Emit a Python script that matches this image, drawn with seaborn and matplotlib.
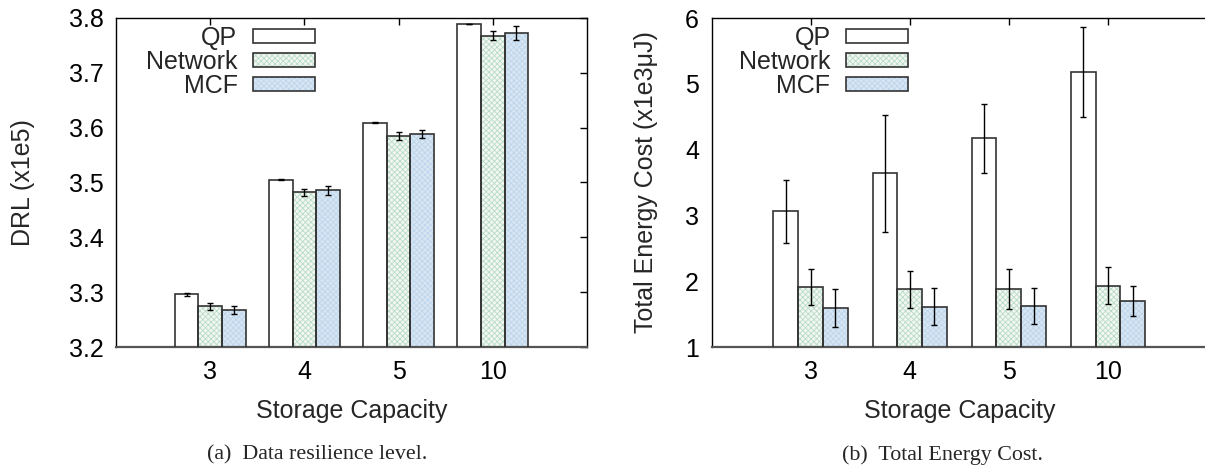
import matplotlib
matplotlib.use("Agg")
import matplotlib.pyplot as plt
from matplotlib.legend_handler import HandlerTuple
import seaborn as sns
import numpy as np
import pandas as pd

# data
capacities = ["3", "4", "5", "10"]
methods = ["QP", "Network", "MCF"]

# (a) data resilience level, x1e5
drl_qp = [3.296, 3.505, 3.609, 3.789]
drl_net = [3.274, 3.482, 3.585, 3.768]
drl_mcf = [3.267, 3.486, 3.589, 3.773]
drl_qp_err = [0.003, 0.001, 0.001, 0.0]
drl_net_err = [0.0065, 0.0065, 0.0075, 0.008]
drl_mcf_err = [0.007, 0.008, 0.0073, 0.0125]

# (b) total energy cost, x1e3 uJ
cost_qp = [3.06, 3.64, 4.17, 5.18]
cost_net = [1.91, 1.88, 1.88, 1.93]
cost_mcf = [1.59, 1.61, 1.62, 1.70]
cost_qp_err = [0.48, 0.89, 0.53, 0.69]
cost_net_err = [0.27, 0.28, 0.31, 0.28]
cost_mcf_err = [0.29, 0.28, 0.27, 0.23]

fills = ["#ffffff", "#f1f8f3", "#d3e6f6"]
hatch_cols = ["#ffffff", "#b9dbc6", "#bdd6ee"]
hatches = ["", "xxxxxx", "xxxxxx"]
edge = "#333333"
fs = 18

sns.set_style("white")
plt.rcParams["font.family"] = ["Liberation Sans", "DejaVu Sans"]
plt.rcParams["hatch.linewidth"] = 0.6


def draw_panel(ax, series, errs, ylim, yticks, ylabel, ylabel_x, legend_x):
    df = pd.DataFrame({
        "cap": capacities * 3,
        "method": np.repeat(methods, len(capacities)),
        "val": np.concatenate(series),
    })
    # fill + hatch layer
    sns.barplot(data=df, x="cap", y="val", hue="method", order=capacities,
                hue_order=methods, palette=fills, width=0.75, errorbar=None,
                legend=False, linewidth=0, ax=ax, zorder=2)
    for cont, hc, h in zip(ax.containers, hatch_cols, hatches):
        for p in cont:
            p.set_hatch(h)
            p.set_edgecolor(hc)
    # outline layer
    sns.barplot(data=df, x="cap", y="val", hue="method", order=capacities,
                hue_order=methods, palette=[edge] * 3, fill=False, width=0.75,
                errorbar=None, legend=False, linewidth=1.2, ax=ax, zorder=3)
    outline = ax.containers[3:]
    for cont, e in zip(outline, errs):
        xs = [p.get_x() + p.get_width() / 2 for p in cont]
        ax.errorbar(xs, cont.datavalues, yerr=e, fmt="none", ecolor="black",
                    elinewidth=1, capsize=2.5, capthick=1, zorder=4)

    ax.set_xlim(-1, 4)
    ax.set_ylim(*ylim)
    ax.set_yticks(yticks)
    ax.set_xlabel("Storage Capacity", fontsize=fs, labelpad=11)
    ax.set_ylabel(ylabel, fontsize=fs)
    ax.yaxis.set_label_coords(ylabel_x, 0.5)
    ax.set_axisbelow(True)
    ax.tick_params(direction="in", length=5, width=1, top=True, right=True,
                   labelsize=fs, pad=9, colors="black")
    for side in ["top", "left", "right"]:
        ax.spines[side].set_color("black")
        ax.spines[side].set_linewidth(1)
    ax.spines["bottom"].set_color("#555555")
    ax.spines["bottom"].set_linewidth(1.6)

    handles = [(a, b) for a, b in zip(ax.containers[:3], outline)]
    ax.legend(handles, methods,
              handler_map={tuple: HandlerTuple(ndivide=1, pad=0)},
              markerfirst=False, frameon=False, loc="upper right",
              bbox_to_anchor=(legend_x, 0.975), borderpad=0, borderaxespad=0,
              handlelength=2.5, handleheight=0.5, handletextpad=0.6,
              labelspacing=0.0, fontsize=fs)


fig = plt.figure(figsize=(12.05, 4.69), dpi=100)
ax1 = fig.add_axes([116 / 1205, 122 / 469, 471 / 1205, 329 / 469])
ax2 = fig.add_axes([711.5 / 1205, 122 / 469, 495.5 / 1205, 329 / 469])

draw_panel(ax1, [drl_qp, drl_net, drl_mcf], [drl_qp_err, drl_net_err, drl_mcf_err],
           (3.2, 3.8), np.arange(3.2, 3.81, 0.1), "DRL (x1e5)",
           (35 - 116) / 471, (315 - 116) / 471)
ax1.set_yticklabels([f"{t:.1f}" for t in np.arange(3.2, 3.81, 0.1)])
draw_panel(ax2, [cost_qp, cost_net, cost_mcf], [cost_qp_err, cost_net_err, cost_mcf_err],
           (1, 6), range(1, 7), "Total Energy Cost (x1e3μJ)",
           (658 - 711.5) / 495.5, (908 - 711.5) / 495.5)
ax2.tick_params(right=False)

cap_font = ["Liberation Serif", "DejaVu Serif"]
fig.text(317 / 1205, 1 - 455 / 469, "(a)  Data resilience level.", ha="center",
         va="center", fontsize=15.8, family=cap_font)
fig.text(942 / 1205, 1 - 455 / 469, "(b)  Total Energy Cost.", ha="center",
         va="center", fontsize=15.8, family=cap_font)

fig.savefig("out.png", dpi=100)
